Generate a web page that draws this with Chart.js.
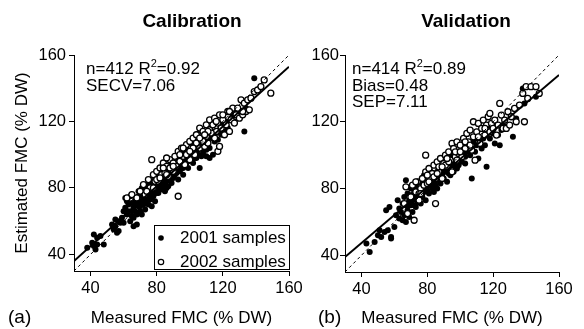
<!DOCTYPE html>
<html><head><meta charset="utf-8">
<script src="https://cdn.jsdelivr.net/npm/chart.js@4.4.1/dist/chart.umd.min.js"></script>
<style>
html,body{margin:0;padding:0;background:#fff;}
#wrap{position:relative;width:584px;height:329px;}
canvas{position:absolute;left:0;top:0;}
</style></head><body>
<div id="wrap"><canvas id="c1" width="584" height="329"></canvas><canvas id="c2" width="584" height="329"></canvas></div>
<script>
const FF = '"Liberation Sans", Arial, Helvetica, sans-serif';
const xTicks = [40, 80, 120, 160];
const yTicks = [40, 80, 120, 160];
const axisMin = 30, axisMax = 160;
const titles = ['Calibration', 'Validation'];
const panelLabels = ['(a)', '(b)'];
const xTitle = 'Measured FMC (% DW)';
const yTitle = 'Estimated FMC (% DW)';
const legendLabels = ['2001 samples', '2002 samples'];
const calStats = [[['n=412 R',0],['2',1],['=0.92',0]], [['SECV=7.06',0]]];
const valStats = [[['n=414 R',0],['2',1],['=0.89',0]], [['Bias=0.48',0]], [['SEP=7.11',0]]];
const oneToOne = [[30,30],[160,160]];
const calFit = [[30,36],[160,153]];
const valFit = [[30,39],[160,148]];

const cal2001 = [[38,44],[41,47],[42,45],[42,52],[43,43],[44,50],[46,51],[48,46],[44,46],
[53,58],[54,55],[55,61],[56,53],[57,54],[58,59],[59,62],[55,57],[57,60],[60,59],
[60,66],[61,68],[61,74],[62,64],[62,72],[63,70],[64,60],[64,75],[65,66],[66,57],[66,62],[67,70],[67,73],[68,64],[68,58],[69,69],[69,75],[70,66],[70,72],[63,66],[65,71],[66,68],[68,71],[69,78],
[71,64],[71,76],[72,70],[72,78],[73,67],[73,73],[74,80],[74,75],[75,70],[75,82],[76,73],[76,77],[77,80],[77,69],[78,83],[78,75],[79,78],[79,72],[80,81],[80,86],[72,74],[74,71],[76,84],[78,79],[79,86],[71,80],
[81,77],[81,88],[82,84],[82,80],[83,79],[83,90],[84,86],[84,82],[85,78],[85,92],[86,88],[86,84],[87,81],[87,91],[88,86],[88,94],[89,83],[89,89],[90,92],[90,86],[80,77],[82,88],[84,90],[86,80],[88,90],[81,83],[83,85],[85,86],[87,86],
[91,95],[91,88],[92,92],[93,98],[93,85],[94,90],[95,96],[95,101],[96,92],[96,88],[97,99],[98,95],[98,103],[99,92],[100,98],[100,104],[92,89],[94,95],[97,94],[99,99],
[101,100],[102,95],[102,106],[103,102],[104,98],[105,108],[105,103],[106,92],[107,105],[108,101],[108,110],[109,106],[110,103],[110,99],[104,104],[107,99],
[111,108],[112,104],[113,110],[114,100],[115,108],[116,113],[117,109],[118,115],[119,112],[120,118],[112,98],
[121,114],[122,120],[123,116],[125,122],[126,124],[128,126],[130,124],[133,114],[134,128],[139,146],[127,120],
[73,77],[75,76],[77,75],[79,82],[81,80],[83,82],[85,84],[87,88],[89,86],[91,91],[93,93],[95,92],[97,97],[99,96],[101,97],[103,98],[105,100],[106,106],[108,104],[110,108],
[70,69],[71,72],[74,77],[76,79],[78,77],[80,84],[82,82],[84,80],[86,91],[88,88],[90,89],[92,95],[94,93],[96,96],[98,98],[100,101],[102,103],[104,101],[67,66],[65,63]];

const cal2002 = [[62,74],[65,76],[68,74],[70,78],[72,82],[73,76],[75,85],[76,80],[77,97],[78,88],[79,84],[80,90],[81,84],[82,92],[83,88],[84,95],[85,89],[86,93],[87,87],[88,97],
[89,91],[90,95],[91,99],[92,93],[93,75],[93,102],[94,96],[95,104],[96,99],[97,94],[98,106],[99,101],[100,97],[100,108],[101,104],[102,110],[103,100],[104,107],[105,112],[106,104],
[106,116],[107,109],[108,114],[109,105],[110,118],[110,111],[111,107],[112,115],[112,121],[117,102],[114,118],[115,110],[115,122],[116,114],[117,119],[118,105],[118,124],[119,116],[120,121],[121,112],
[122,118],[123,126],[124,114],[125,121],[126,128],[127,119],[128,124],[129,128],[130,122],[131,133],[132,124],[133,131],[134,126],[135,133],[137,134],[139,138],[141,139],[143,141],[145,145],[149,137],
[84,92],[86,98],[90,90],[96,104],[102,104],[108,108],[113,113],[120,124],[80,85],[88,92],[98,100],[104,112],[111,114],[124,126],[132,126],[136,127],
[74,78],[78,80],[82,86],[86,88],[90,93],[94,100],[100,102],[106,110],[109,112],[116,120]];

const val2001 = [[43,47],[45,42],[48,48],[50,52],[51,55],[52,51],[54,54],[55,67],[56,55],[57,69],[58,50],[58,51],[60,57],[61,64],[62,73],[63,62],[63,68],[64,66],[65,61],[65,71],
[66,64],[66,75],[67,60],[67,85],[67,70],[68,67],[68,77],[69,63],[69,73],[70,80],[70,70],[71,66],[71,76],[72,74],[72,79],[73,69],[73,82],[74,76],[74,72],[75,78],
[75,84],[76,71],[76,80],[77,75],[77,83],[78,78],[78,88],[79,73],[79,81],[80,85],[80,79],[81,77],[81,87],[82,82],[82,90],[83,80],[83,86],[84,84],[84,78],[85,88],
[85,82],[86,80],[86,90],[87,85],[88,83],[88,92],[89,88],[90,86],[90,94],[91,90],[92,84],[92,96],[93,92],[94,88],[94,99],[95,94],[96,90],[96,100],[97,96],[98,92],
[98,102],[99,94],[100,99],[101,96],[101,104],[102,100],[103,95],[104,102],[105,106],[106,100],[107,86],[107,104],[108,108],[109,102],[110,106],[111,98],[112,108],[113,104],[114,110],[115,106],
[116,93],[116,112],[118,110],[119,116],[120,113],[121,107],[122,118],[123,112],[124,106],[125,115],[126,118],[128,117],[132,111],[134,122],[138,140],[146,135],[139,131],
[70,76],[72,70],[74,80],[76,76],[78,82],[80,82],[82,86],[84,88],[86,86],[88,88],[90,90],[72,77],[77,79],
[69,70],[71,73],[73,75],[75,74],[77,77],[79,84],[81,82],[83,83],[85,85],[87,88],[89,91],[91,93],[93,89],[95,97],[97,93],[99,97],[101,101],[103,99],[105,103],[110,110],[117,114],[120,117]];

const val2002 = [[66,71],[67,81],[68,65],[70,75],[71,82],[72,61],[73,78],[74,84],[75,73],[76,80],[77,86],[78,82],[79,100],[79,90],[80,83],[81,92],[82,86],[83,89],[84,94],[85,71],
[85,86],[86,96],[87,90],[88,98],[89,86],[90,95],[91,100],[92,93],[93,102],[94,97],[95,90],[95,107],[96,104],[97,99],[98,108],[99,101],[100,106],[101,99],[102,110],[103,104],
[104,113],[105,108],[106,115],[107,103],[108,120],[108,111],[109,97],[110,114],[111,119],[112,107],[113,116],[114,121],[115,112],[116,118],[117,123],[118,125],[118,114],[119,119],[120,116],[121,121],
[122,112],[123,118],[124,131],[125,124],[126,116],[127,121],[128,116],[129,126],[130,118],[131,123],[133,128],[134,120],[136,130],[138,137],[139,120],[140,141],[143,141],[146,141],[148,137],[141,134],
[73,84],[75,77],[81,84],[84,87],[87,93],[91,94],[93,96],[97,102],[100,102],[103,108],
[76,77],[80,88],[86,89],[89,93],[92,98],[98,97],[106,106],[111,111],[115,116]];

const toPts = a => a.map(p => ({x: p[0], y: p[1]}));

const annot = {
  id: 'annot',
  afterDraw(chart, args, o) {
    const ctx = chart.ctx;
    ctx.save();
    ctx.fillStyle = '#000';
    ctx.font = 'bold 19px ' + FF;
    ctx.textAlign = 'center';
    ctx.textBaseline = 'alphabetic';
    ctx.fillText(o.title, o.titleX, 27);
    ctx.font = '19px ' + FF;
    ctx.textAlign = 'left';
    ctx.textBaseline = 'middle';
    ctx.fillText(o.panel, o.panelX, 318);
    ctx.textBaseline = 'alphabetic';
    o.stats.forEach((line, i) => {
      let x = o.statsX;
      const y = 74 + i * 16.5;
      line.forEach(seg => {
        if (seg[1]) { ctx.font = '11px ' + FF; ctx.fillText(seg[0], x, y - 7); }
        else { ctx.font = '17px ' + FF; ctx.fillText(seg[0], x, y); }
        x += ctx.measureText(seg[0]).width;
      });
    });
    if (o.legend) {
      ctx.fillStyle = '#fff';
      ctx.fillRect(154.5, 225.5, 135, 44);
      ctx.strokeStyle = '#000';
      ctx.lineWidth = 1;
      ctx.strokeRect(154.5, 225.5, 135, 44);
      ctx.fillStyle = '#000';
      ctx.beginPath(); ctx.arc(161, 238, 2.8, 0, Math.PI * 2); ctx.fill();
      ctx.beginPath(); ctx.arc(161, 262, 2.7, 0, Math.PI * 2); ctx.lineWidth = 1.2; ctx.stroke();
      ctx.font = '17px ' + FF;
      ctx.textBaseline = 'middle';
      ctx.fillText(o.legend[0], 180, 238);
      ctx.fillText(o.legend[1], 180, 262);
    }
    ctx.restore();
  }
};

function makeChart(id, d2001, d2002, fit, cfg) {
  return new Chart(document.getElementById(id), {
    type: 'scatter',
    data: {
      datasets: [
        {data: toPts(fit), showLine: true, borderColor: '#000', borderWidth: 2, pointRadius: 0, order: 0},
        {data: toPts(oneToOne), showLine: true, borderColor: '#000', borderWidth: 1, borderDash: [3, 3], pointRadius: 0, order: 0},
        {data: toPts(d2002), pointRadius: 3, pointBorderWidth: 1.3, pointBackgroundColor: '#fff', pointBorderColor: '#000', order: 1},
        {data: toPts(d2001), pointRadius: 3, pointBorderWidth: 0, pointBackgroundColor: '#000', pointBorderColor: '#000', order: 2}
      ]
    },
    options: {
      responsive: false, animation: false, devicePixelRatio: 1,
      layout: {padding: {left: cfg.padLeft, right: cfg.padRight, top: 55, bottom: 0}},
      plugins: {legend: {display: false}, tooltip: {enabled: false}, title: {display: false}, annot: cfg.annot},
      scales: {
        x: {
          type: 'linear', min: axisMin, max: axisMax,
          afterBuildTicks: s => { s.ticks = xTicks.map(v => ({value: v})); },
          afterFit: s => { s.height = cfg.xH; },
          grid: {drawOnChartArea: false, drawTicks: true, tickLength: 5, color: '#000'},
          border: {display: true, color: '#000', width: 1},
          ticks: {color: '#000', font: {size: 16.5, family: FF}, padding: 3, maxRotation: 0},
          title: {display: true, text: xTitle, color: '#000', font: {size: 17, family: FF}, padding: {top: 0, bottom: 0}}
        },
        y: {
          type: 'linear', min: axisMin, max: axisMax,
          afterBuildTicks: s => { s.ticks = yTicks.map(v => ({value: v})); },
          afterFit: s => { s.width = cfg.yW; },
          grid: {drawOnChartArea: false, drawTicks: true, tickLength: 5, color: '#000'},
          border: {display: true, color: '#000', width: 1},
          ticks: {color: '#000', font: {size: 16.5, family: FF}, padding: cfg.yPad},
          title: {display: cfg.yTitle, text: yTitle, color: '#000', font: {size: 17, family: FF}, padding: {top: 12, bottom: 0}}
        }
      }
    },
    plugins: [annot]
  });
}

makeChart('c1', cal2001, cal2002, calFit, {
  padLeft: 0, padRight: 584 - 289, xH: 58, yW: 74, yPad: 3, yTitle: true,
  annot: {title: titles[0], titleX: 192, panel: panelLabels[0], panelX: 8, stats: calStats, statsX: 86, legend: legendLabels}
});
makeChart('c2', val2001, val2002, valFit, {
  padLeft: 290, padRight: 584 - 559, xH: 57, yW: 55, yPad: 1, yTitle: false,
  annot: {title: titles[1], titleX: 466, panel: panelLabels[1], panelX: 318, stats: valStats, statsX: 352, legend: null}
});
</script>
</body></html>
